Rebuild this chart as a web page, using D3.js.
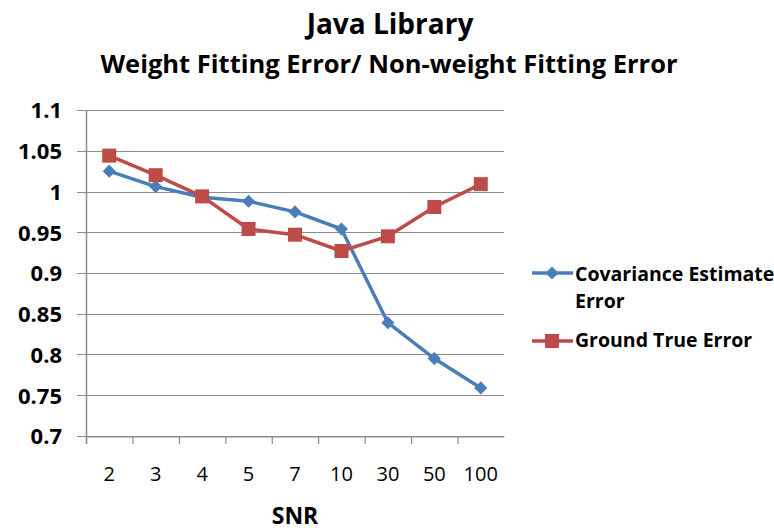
<!DOCTYPE html>
<html>
<head>
<meta charset="utf-8">
<script src="https://cdn.jsdelivr.net/npm/d3@7"></script>
<style>
  body { margin: 0; background: #fff; }
  text { font-family: "Open Sans", Lato, sans-serif; fill: #000; }
</style>
</head>
<body>
<svg id="chart" width="774" height="532"></svg>
<script>
// values
var snr_labels = ["2", "3", "4", "5", "7", "10", "30", "50", "100"];
var covariance_error = [1.025, 1.006, 0.993, 0.988, 0.975, 0.954, 0.839, 0.795, 0.759];
var ground_true_error = [1.044, 1.020, 0.994, 0.954, 0.947, 0.927, 0.945, 0.981, 1.009];
var y_ticks = [0.7, 0.75, 0.8, 0.85, 0.9, 0.95, 1, 1.05, 1.1];

var BLUE = "#4a7ebb";
var RED = "#be4b48";

var svg = d3.select("#chart"),
    margin = {top: 110, left: 86, right: 270, bottom: 96},
    width = 774 - margin.left - margin.right,
    height = 532 - margin.top - margin.bottom,
    g = svg.append("g").attr("transform", "translate(" + margin.left + "," + margin.top + ")");

var x = d3.scaleBand()
    .domain(snr_labels)
    .range([0, width]);

var y = d3.scaleLinear()
    .domain([0.7, 1.1])
    .range([height, 0]);

// gridlines
g.append("g")
    .selectAll("line")
    .data(y_ticks)
    .enter().append("line")
      .attr("x1", -9)
      .attr("x2", width)
      .attr("y1", function(d) { return Math.round(y(d)) + 0.5; })
      .attr("y2", function(d) { return Math.round(y(d)) + 0.5; })
      .style("stroke", "#8c8c8c")
      .style("stroke-width", 1.2);

// y axis
var yAxis = g.append("g")
    .call(d3.axisLeft(y).tickValues(y_ticks).tickSize(0).tickFormat(d3.format("")));
yAxis.select(".domain").remove();
yAxis.selectAll("text")
    .attr("x", -24)
    .attr("dy", "0.36em")
    .style("font-size", "22px")
    .style("font-weight", "bold");

g.append("line")
    .attr("x1", 0.5).attr("x2", 0.5)
    .attr("y1", 0).attr("y2", height + 8)
    .style("stroke", "#8c8c8c")
    .style("stroke-width", 1.5);

// x axis
var xAxis = g.append("g")
    .attr("transform", "translate(0," + (Math.round(height) + 0.5) + ")")
    .call(d3.axisBottom(x).tickSize(0).tickPadding(0));
xAxis.select(".domain")
    .style("stroke", "#8c8c8c")
    .style("stroke-width", 1.2);
xAxis.selectAll("text")
    .attr("y", 44)
    .attr("dy", null)
    .style("font-size", "20px");

// tick marks between categories
g.append("g")
    .selectAll("line")
    .data(snr_labels)
    .enter().append("line")
      .attr("x1", function(d) { return x(d) + 0.5; })
      .attr("x2", function(d) { return x(d) + 0.5; })
      .attr("y1", height)
      .attr("y2", height + 8)
      .style("stroke", "#8c8c8c")
      .style("stroke-width", 1.2);

function cx(i) { return x(snr_labels[i]) + x.bandwidth() / 2; }

var line = d3.line()
    .x(function(d, i) { return cx(i); })
    .y(function(d) { return y(d); });

// blue series
g.append("path")
    .datum(covariance_error)
    .attr("d", line)
    .style("fill", "none")
    .style("stroke", BLUE)
    .style("stroke-width", 3.5)
    .style("stroke-linejoin", "round");

g.append("g")
    .selectAll("path")
    .data(covariance_error)
    .enter().append("path")
      .attr("d", d3.symbol().type(d3.symbolDiamond2).size(110))
      .attr("transform", function(d, i) { return "translate(" + cx(i) + "," + y(d) + ")"; })
      .style("fill", BLUE);

// red series
g.append("path")
    .datum(ground_true_error)
    .attr("d", line)
    .style("fill", "none")
    .style("stroke", RED)
    .style("stroke-width", 3.5)
    .style("stroke-linejoin", "round");

g.append("g")
    .selectAll("rect")
    .data(ground_true_error)
    .enter().append("rect")
      .attr("x", function(d, i) { return cx(i) - 7; })
      .attr("y", function(d) { return y(d) - 7; })
      .attr("width", 14)
      .attr("height", 14)
      .style("fill", RED);

// titles
svg.append("text")
    .attr("x", 390).attr("y", 34)
    .attr("text-anchor", "middle")
    .style("font-size", "28px")
    .style("font-weight", "bold")
    .text("Java Library");

svg.append("text")
    .attr("x", 389).attr("y", 73)
    .attr("text-anchor", "middle")
    .style("font-size", "25.5px")
    .style("font-weight", "bold")
    .text("Weight Fitting Error/ Non-weight Fitting Error");

svg.append("text")
    .attr("x", 295).attr("y", 524)
    .attr("text-anchor", "middle")
    .style("font-size", "23px")
    .style("font-weight", "bold")
    .text("SNR");

// legend
var legend = svg.append("g");

legend.append("line")
    .attr("x1", 532).attr("x2", 573).attr("y1", 273).attr("y2", 273)
    .style("stroke", BLUE).style("stroke-width", 3.5);
legend.append("path")
    .attr("d", d3.symbol().type(d3.symbolDiamond2).size(110))
    .attr("transform", "translate(552,273)")
    .style("fill", BLUE);
legend.append("text")
    .attr("x", 575).attr("y", 281)
    .style("font-size", "19.5px").style("font-weight", "bold")
    .text("Covariance Estimate");
legend.append("text")
    .attr("x", 575).attr("y", 308)
    .style("font-size", "19.5px").style("font-weight", "bold")
    .text("Error");

legend.append("line")
    .attr("x1", 532).attr("x2", 573).attr("y1", 341).attr("y2", 341)
    .style("stroke", RED).style("stroke-width", 3.5);
legend.append("rect")
    .attr("x", 545).attr("y", 334).attr("width", 14).attr("height", 14)
    .style("fill", RED);
legend.append("text")
    .attr("x", 575).attr("y", 347)
    .style("font-size", "19.5px").style("font-weight", "bold")
    .text("Ground True Error");
</script>
</body>
</html>
